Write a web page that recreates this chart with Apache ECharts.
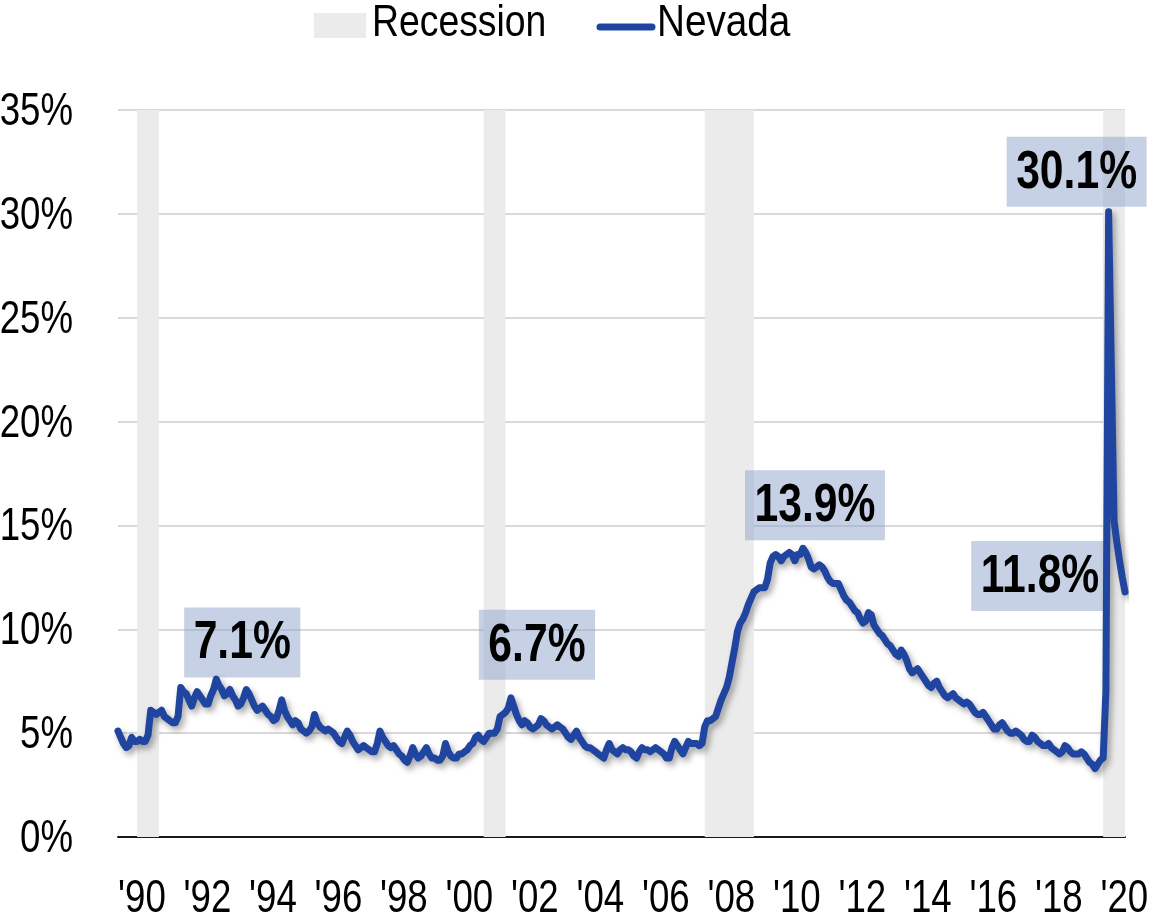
<!DOCTYPE html>
<html>
<head>
<meta charset="utf-8">
<script src="https://cdn.jsdelivr.net/npm/echarts@6/dist/echarts.min.js"></script>
<style>
  html, body { margin: 0; padding: 0; background: #ffffff; }
  #chart { width: 1155px; height: 914px; }
</style>
</head>
<body>
<div id="chart"></div>
<script>
// Nevada unemployment rate, monthly, not seasonally adjusted (%)
const rate1990 = [5.1, 4.8, 4.5, 4.3, 4.4, 4.8, 4.6, 4.6, 4.7, 4.6, 4.6, 4.9];
const rate1991 = [6.1, 6.0, 5.9, 6.0, 6.1, 5.8, 5.7, 5.6, 5.5, 5.5, 5.8, 7.2];
const rate1992 = [7.0, 6.9, 6.6, 6.3, 6.7, 7.0, 6.8, 6.6, 6.4, 6.4, 6.8, 7.1];
const rate1993 = [7.6, 7.3, 7.1, 6.8, 6.9, 7.1, 6.8, 6.6, 6.3, 6.4, 6.7, 7.1];
const rate1994 = [6.9, 6.6, 6.3, 6.1, 6.2, 6.3, 6.1, 5.9, 5.8, 5.6, 5.7, 6.1];
const rate1995 = [6.6, 6.1, 5.8, 5.6, 5.4, 5.6, 5.5, 5.2, 5.1, 5.0, 5.1, 5.3];
const rate1996 = [5.9, 5.5, 5.3, 5.2, 5.1, 5.2, 5.1, 5.0, 4.8, 4.6, 4.5, 4.8];
const rate1997 = [5.1, 4.9, 4.6, 4.4, 4.2, 4.3, 4.4, 4.3, 4.2, 4.1, 4.1, 4.5];
const rate1998 = [5.1, 4.8, 4.6, 4.4, 4.3, 4.4, 4.2, 4.0, 3.9, 3.7, 3.6, 3.9];
const rate1999 = [4.3, 4.0, 3.8, 3.9, 4.1, 4.3, 4.0, 3.8, 3.8, 3.7, 3.7, 3.9];
const rate2000 = [4.5, 4.1, 3.9, 3.8, 3.8, 4.0, 4.0, 4.1, 4.2, 4.4, 4.5, 4.8];
const rate2001 = [4.9, 4.7, 4.6, 4.8, 5.0, 5.0, 5.0, 5.2, 5.8, 5.9, 6.0, 6.2];
const rate2002 = [6.7, 6.3, 5.9, 5.6, 5.4, 5.6, 5.5, 5.3, 5.2, 5.3, 5.4, 5.7];
const rate2003 = [5.6, 5.4, 5.3, 5.2, 5.3, 5.4, 5.3, 5.2, 5.0, 4.8, 4.7, 4.9];
const rate2004 = [5.1, 4.8, 4.6, 4.4, 4.3, 4.3, 4.2, 4.1, 4.0, 3.9, 3.8, 4.2];
const rate2005 = [4.5, 4.2, 4.1, 4.0, 4.2, 4.3, 4.2, 4.2, 4.1, 3.9, 3.8, 4.1];
const rate2006 = [4.3, 4.2, 4.2, 4.1, 4.2, 4.3, 4.2, 4.1, 4.0, 3.8, 3.8, 4.3];
const rate2007 = [4.6, 4.4, 4.2, 4.0, 4.3, 4.6, 4.5, 4.5, 4.5, 4.4, 4.5, 5.3];
const rate2008 = [5.6, 5.6, 5.7, 5.8, 6.2, 6.6, 6.9, 7.2, 7.7, 8.4, 9.1, 9.9];
const rate2009 = [10.3, 10.5, 10.8, 11.2, 11.5, 11.8, 11.9, 12.0, 12.0, 12.0, 12.4, 13.2];
const rate2010 = [13.5, 13.6, 13.5, 13.3, 13.5, 13.6, 13.7, 13.6, 13.3, 13.6, 13.6, 13.9];
const rate2011 = [13.7, 13.4, 13.0, 12.9, 13.0, 13.1, 13.0, 12.8, 12.5, 12.3, 12.2, 12.2];
const rate2012 = [12.2, 11.9, 11.6, 11.4, 11.3, 11.1, 10.9, 10.8, 10.5, 10.3, 10.4, 10.8];
const rate2013 = [10.7, 10.2, 10.0, 9.8, 9.7, 9.5, 9.3, 9.2, 9.0, 8.8, 8.7, 9.0];
const rate2014 = [8.8, 8.5, 8.1, 7.9, 8.0, 8.1, 7.9, 7.7, 7.5, 7.3, 7.2, 7.4];
const rate2015 = [7.5, 7.2, 7.0, 6.8, 6.7, 6.8, 6.9, 6.7, 6.6, 6.5, 6.4, 6.5];
const rate2016 = [6.4, 6.2, 6.0, 5.9, 5.9, 6.0, 5.8, 5.6, 5.4, 5.2, 5.2, 5.4];
const rate2017 = [5.5, 5.3, 5.1, 5.0, 5.0, 5.1, 5.0, 4.9, 4.7, 4.6, 4.6, 4.9];
const rate2018 = [4.8, 4.6, 4.5, 4.4, 4.4, 4.5, 4.3, 4.2, 4.1, 4.0, 4.1, 4.4];
const rate2019 = [4.3, 4.1, 4.0, 4.0, 4.0, 4.1, 4.0, 3.8, 3.6, 3.5, 3.3, 3.5];
const rate2020 = [3.7, 3.8, 7.0, 30.1, 22.5, 15.2, 14.2, 13.3, 12.5, 11.8];

const nevadaRate = [].concat(
  rate1990, rate1991, rate1992, rate1993, rate1994, rate1995, rate1996, rate1997,
  rate1998, rate1999, rate2000, rate2001, rate2002, rate2003, rate2004, rate2005,
  rate2006, rate2007, rate2008, rate2009, rate2010, rate2011, rate2012, rate2013,
  rate2014, rate2015, rate2016, rate2017, rate2018, rate2019, rate2020
);

// Recession periods (start month, end month)
const recessionStarts = ['1990-08', '2001-03', '2007-12', '2020-02'];
const recessionEnds   = ['1991-04', '2001-11', '2009-06', '2020-10'];

// Months whose value is called out
const calloutMonths = ['1993-12', '2002-01', '2010-12', '2020-04', '2020-10'];

// Y-axis ticks
const yTicks = [0, 5, 10, 15, 20, 25, 30, 35];

// Month keys from January 1990 onwards, one per value
const firstYear = 1990;
const categories = nevadaRate.map((_, i) => {
  const y = firstYear + Math.floor(i / 12);
  const m = (i % 12) + 1;
  return y + '-' + String(m).padStart(2, '0');
});
// X tick labels: January of every even year
const xTickMonths = categories.filter(c => c.endsWith('-01') && (+c.slice(0, 4)) % 2 === 0);

const FONT = '"Liberation Sans", Arial, sans-serif';
const NARROW = 0.78;          // horizontal squeeze giving a narrow face
const LINE_BLUE = '#1f45a0';
const BAND_GREY = '#ebebeb';

// Placement of each value box relative to its point: dx = box centre shift,
// dy = box bottom relative to the point (negative = above)
const calloutPlacement = {
  '1993-12': { dx: -4,  dy: -12 },
  '2002-01': { dx: 26,  dy: -18 },
  '2010-12': { dx: 12,  dy: -8 },
  '2020-04': { dx: -32, dy: -5 },
  '2020-10': { dx: -85, dy: 19 }
};

const chart = echarts.init(document.getElementById('chart'), null, { renderer: 'canvas' });

chart.setOption({
  animation: false,
  backgroundColor: '#ffffff',
  textStyle: { fontFamily: FONT },
  grid: { left: 118, right: 30, top: 110, bottom: 77, containLabel: false, outerBoundsMode: 'none' },
  xAxis: {
    type: 'category',
    data: categories,
    boundaryGap: false,
    axisLine: { show: true, onZero: true, lineStyle: { color: '#1a1a1a', width: 2 } },
    axisTick: { show: false },
    splitLine: { show: false },
    axisLabel: { show: false }
  },
  yAxis: {
    type: 'value',
    min: yTicks[0],
    max: yTicks[yTicks.length - 1],
    interval: yTicks[1] - yTicks[0],
    axisLine: { show: false },
    axisTick: { show: false },
    splitLine: { lineStyle: { color: '#d9d9d9', width: 2 } },
    axisLabel: { show: false }
  },
  series: [
    {
      name: 'Recession',
      type: 'line',
      data: [],
      symbol: 'none',
      itemStyle: { color: BAND_GREY },
      lineStyle: { color: BAND_GREY },
      markArea: {
        silent: true,
        itemStyle: { color: BAND_GREY },
        data: recessionStarts.map((s, i) => [{ xAxis: s }, { xAxis: recessionEnds[i] }])
      },
      z: 1
    },
    {
      name: 'Nevada',
      type: 'line',
      data: nevadaRate,
      symbol: 'none',
      itemStyle: { color: LINE_BLUE },
      lineStyle: {
        color: LINE_BLUE,
        width: 7,
        join: 'round',
        cap: 'round',
        shadowColor: 'rgba(0,0,0,0.35)',
        shadowBlur: 6,
        shadowOffsetX: 3,
        shadowOffsetY: 4
      },
      z: 4
    }
  ]
});

// Text is laid out after the axes exist, positioned through the axis scales
const toPx = (cat, val) => chart.convertToPixel({ xAxisIndex: 0, yAxisIndex: 0 }, [cat, val]);
const graphics = [];

// Y tick labels
yTicks.forEach(t => {
  const p = toPx(categories[0], t);
  graphics.push({
    type: 'text', x: p[0] - 45, y: p[1] + 2, scaleX: NARROW, silent: true,
    style: { text: t + '%', font: '47px ' + FONT, fill: '#000000', textAlign: 'right', textVerticalAlign: 'middle' }
  });
});

// X tick labels
xTickMonths.forEach(m => {
  const p = toPx(m, 0);
  graphics.push({
    type: 'text', x: p[0], y: p[1] + 62, scaleX: NARROW, silent: true,
    style: { text: "'" + m.slice(2, 4), font: '47px ' + FONT, fill: '#000000', textAlign: 'left', textVerticalAlign: 'middle' }
  });
});

// Value callouts, each drawn from its month's value
calloutMonths.forEach(m => {
  const v = nevadaRate[categories.indexOf(m)];
  const p = toPx(m, v);
  const pl = calloutPlacement[m];
  graphics.push({
    type: 'text', x: p[0] + pl.dx, y: p[1] + pl.dy, scaleX: 0.79, z: 3, silent: true,
    style: {
      text: v.toFixed(1) + '%',
      font: 'bold 54px ' + FONT,
      fill: '#000000',
      textAlign: 'center',
      textVerticalAlign: 'bottom',
      backgroundColor: 'rgba(143,164,205,0.5)',
      padding: [9, 12, 7, 12]
    }
  });
});

// Legend
graphics.push(
  { type: 'rect', shape: { x: 314, y: 13, width: 52, height: 25 }, style: { fill: BAND_GREY }, silent: true },
  { type: 'text', x: 372, y: 24, scaleX: 0.83, silent: true,
    style: { text: 'Recession', font: '45px ' + FONT, fill: '#000000', textAlign: 'left', textVerticalAlign: 'middle' } },
  { type: 'line', shape: { x1: 600, y1: 27, x2: 652, y2: 27 }, style: { stroke: LINE_BLUE, lineWidth: 7, lineCap: 'round' }, silent: true },
  { type: 'text', x: 657, y: 24, scaleX: 0.86, silent: true,
    style: { text: 'Nevada', font: '45px ' + FONT, fill: '#000000', textAlign: 'left', textVerticalAlign: 'middle' } }
);

chart.setOption({ graphic: { elements: graphics } });
</script>
</body>
</html>
